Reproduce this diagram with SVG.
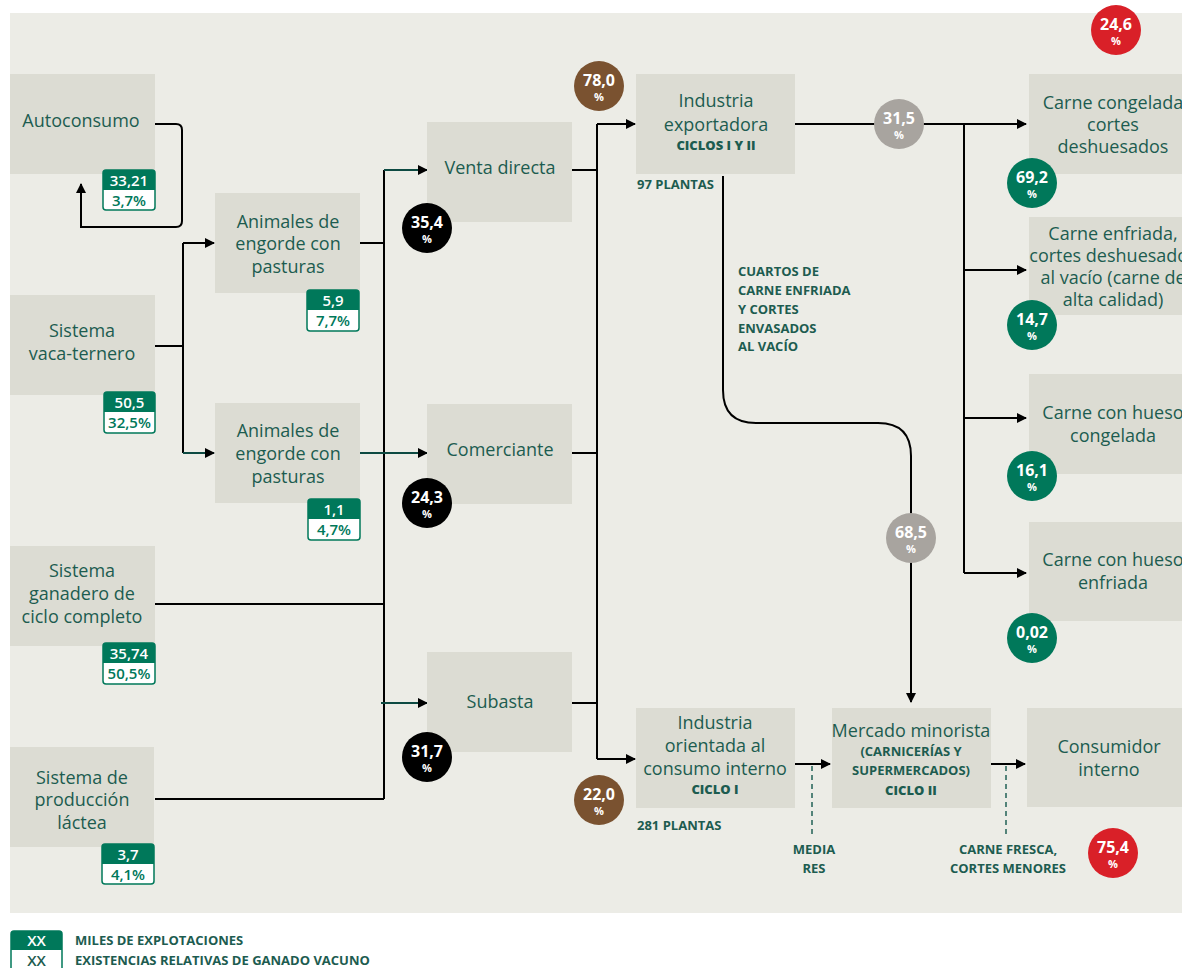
<svg xmlns="http://www.w3.org/2000/svg" width="1182" height="968" viewBox="0 0 1182 968">
<defs>
<style>
.bg{fill:#ecece6}
.box{fill:#dcdcd3}
.t{font-family:"Open Sans","Noto Sans",sans-serif;font-size:18px;fill:#1d5c50;text-anchor:middle}
.b{font-family:"Open Sans","Noto Sans",sans-serif;font-size:13px;font-weight:bold;fill:#1d5c50}
.bc{text-anchor:middle}
.xb{font-weight:800}
.ln{fill:none;stroke:#000;stroke-width:2}
.lt{fill:none;stroke:#0d4a42;stroke-width:2}
.dash{fill:none;stroke:#2e6a5f;stroke-width:1.6;stroke-dasharray:5 4}
.bt{fill:#00785a}
.bw{fill:#fff;stroke:#00785a;stroke-width:1.5}
.n1{font-family:"Open Sans","Noto Sans",sans-serif;font-size:15px;font-weight:600;fill:#fff;text-anchor:middle}
.n2{font-family:"Open Sans","Noto Sans",sans-serif;font-size:15px;font-weight:600;fill:#00785a;text-anchor:middle}
.cn{font-family:"Open Sans","Noto Sans",sans-serif;font-size:16px;font-weight:bold;fill:#fff;text-anchor:middle}
.cp{font-family:"Open Sans","Noto Sans",sans-serif;font-size:11px;font-weight:bold;fill:#fff;text-anchor:middle}
.cg{fill:#00785a}.cr{fill:#d92028}.cb{fill:#7a5230}.cy{fill:#a8a49f}.ck{fill:#000}
</style>
<marker id="ar" viewBox="0 0 10 10" refX="9" refY="5" markerWidth="5" markerHeight="5" orient="auto" markerUnits="strokeWidth">
<path d="M0,0 L10,5 L0,10 z" fill="#000"/>
</marker>
</defs>
<rect x="0" y="0" width="1182" height="968" fill="#fff"/>
<rect class="bg" x="10" y="13" width="1172" height="900"/>

<g id="connectors">
<path class="ln" d="M155,124 H176 Q182,124 182,130 V221 Q182,227 176,227 H81 V184" marker-end="url(#ar)"/>
<path class="ln" d="M155,346 H183"/>
<path class="ln" d="M183,243 V453"/>
<path class="ln" d="M183,243 H214" marker-end="url(#ar)"/>
<path class="lt" d="M183,453 H214" marker-end="url(#ar)"/>
<path class="ln" d="M360,243 H384"/>
<path class="ln" d="M384,170 V799"/>
<path class="lt" d="M384,170 H427" marker-end="url(#ar)"/>
<path class="lt" d="M360,453 H427" marker-end="url(#ar)"/>
<path class="ln" d="M155,604 H384"/>
<path class="ln" d="M155,799 H384"/>
<path class="lt" d="M381,703 H427" marker-end="url(#ar)"/>
<path class="ln" d="M572,170 H597"/>
<path class="ln" d="M572,453 H597"/>
<path class="ln" d="M572,703 H597"/>
<path class="ln" d="M597,124 V759"/>
<path class="ln" d="M597,124 H635" marker-end="url(#ar)"/>
<path class="ln" d="M597,759 H635" marker-end="url(#ar)"/>
<path class="ln" d="M723,176 V390 Q723,423 756,423 H878 Q911,423 911,456 V702" marker-end="url(#ar)"/>
<path class="ln" d="M795,124 H1026" marker-end="url(#ar)"/>
<path class="ln" d="M964,124 V573"/>
<path class="ln" d="M964,270 H1026" marker-end="url(#ar)"/>
<path class="ln" d="M964,418 H1026" marker-end="url(#ar)"/>
<path class="ln" d="M964,573 H1026" marker-end="url(#ar)"/>
<path class="ln" d="M795,764 H830" marker-end="url(#ar)"/>
<path class="ln" d="M991,764 H1025" marker-end="url(#ar)"/>
<path class="dash" d="M812,766 V836"/>
<path class="dash" d="M1006,766 V836"/>
</g>

<g id="autoconsumo">
<rect class="box" x="10" y="74" width="145" height="100"/>
<text class="t" x="81" y="127">Autoconsumo</text>
<rect class="bw" x="103" y="170" width="52" height="40" rx="3"/>
<path class="bt" d="M103,173 Q103,170 106,170 H152 Q155,170 155,173 V190 H103 z"/>
<text class="n1" x="129" y="186">33,21</text>
<text class="n2" x="129" y="206">3,7%</text>
</g>

<g id="vaca-ternero">
<rect class="box" x="10" y="295" width="145" height="100"/>
<text class="t" x="82" y="337">Sistema</text>
<text class="t" x="82" y="360">vaca-ternero</text>
<rect class="bw" x="104" y="392" width="51" height="41" rx="3"/>
<path class="bt" d="M104,395 Q104,392 107,392 H152 Q155,392 155,395 V412 H104 z"/>
<text class="n1" x="129.5" y="408">50,5</text>
<text class="n2" x="129.5" y="428">32,5%</text>
</g>

<g id="animales1">
<rect class="box" x="215" y="193" width="145" height="100"/>
<text class="t" x="288" y="228">Animales de</text>
<text class="t" x="288" y="250">engorde con</text>
<text class="t" x="288" y="273">pasturas</text>
<rect class="bw" x="307" y="290" width="52" height="41" rx="3"/>
<path class="bt" d="M307,293 Q307,290 310,290 H356 Q359,290 359,293 V310 H307 z"/>
<text class="n1" x="333" y="306">5,9</text>
<text class="n2" x="333" y="326">7,7%</text>
</g>

<g id="animales2">
<rect class="box" x="215" y="403" width="145" height="100"/>
<text class="t" x="288" y="437">Animales de</text>
<text class="t" x="288" y="460">engorde con</text>
<text class="t" x="288" y="483">pasturas</text>
<rect class="bw" x="308" y="499" width="52" height="41" rx="3"/>
<path class="bt" d="M308,502 Q308,499 311,499 H357 Q360,499 360,502 V519 H308 z"/>
<text class="n1" x="334" y="515">1,1</text>
<text class="n2" x="334" y="535">4,7%</text>
</g>

<g id="ciclo-completo">
<rect class="box" x="10" y="546" width="145" height="100"/>
<text class="t" x="82" y="577">Sistema</text>
<text class="t" x="82" y="600">ganadero de</text>
<text class="t" x="82" y="623">ciclo completo</text>
<rect class="bw" x="103" y="643" width="52" height="41" rx="3"/>
<path class="bt" d="M103,646 Q103,643 106,643 H152 Q155,643 155,646 V663 H103 z"/>
<text class="n1" x="129" y="659">35,74</text>
<text class="n2" x="129" y="679">50,5%</text>
</g>

<g id="lactea">
<rect class="box" x="10" y="747" width="144" height="100"/>
<text class="t" x="82" y="784">Sistema de</text>
<text class="t" x="82" y="806">producción</text>
<text class="t" x="82" y="829">láctea</text>
<rect class="bw" x="102" y="844" width="52" height="40" rx="3"/>
<path class="bt" d="M102,847 Q102,844 105,844 H151 Q154,844 154,847 V864 H102 z"/>
<text class="n1" x="128" y="860">3,7</text>
<text class="n2" x="128" y="880">4,1%</text>
</g>

<g id="venta-directa">
<rect class="box" x="427" y="122" width="145" height="100"/>
<text class="t" x="500" y="174">Venta directa</text>
<circle class="ck" cx="427" cy="228" r="25"/>
<text class="cn" x="427" y="228">35,4</text>
<text class="cp" x="427" y="243">%</text>
</g>

<g id="comerciante">
<rect class="box" x="427" y="404" width="145" height="100"/>
<text class="t" x="500" y="456">Comerciante</text>
<circle class="ck" cx="427" cy="503" r="25"/>
<text class="cn" x="427" y="503">24,3</text>
<text class="cp" x="427" y="518">%</text>
</g>

<g id="subasta">
<rect class="box" x="427" y="652" width="145" height="100"/>
<text class="t" x="500" y="708">Subasta</text>
<circle class="ck" cx="427" cy="757" r="25"/>
<text class="cn" x="427" y="757">31,7</text>
<text class="cp" x="427" y="772">%</text>
</g>

<g id="industria-exportadora">
<rect class="box" x="636" y="74" width="159" height="100"/>
<text class="t" x="716" y="107">Industria</text>
<text class="t" x="716" y="131">exportadora</text>
<text class="b bc xb" x="716" y="150">CICLOS I Y II</text>
<text class="b" x="637" y="189">97 PLANTAS</text>
<circle class="cb" cx="599" cy="86" r="25"/>
<text class="cn" x="599" y="86">78,0</text>
<text class="cp" x="599" y="101">%</text>
</g>

<g id="label-cuartos">
<text class="b" x="738" y="276">CUARTOS DE</text>
<text class="b" x="738" y="295">CARNE ENFRIADA</text>
<text class="b" x="738" y="314">Y CORTES</text>
<text class="b" x="738" y="333">ENVASADOS</text>
<text class="b" x="738" y="351">AL VACÍO</text>
</g>

<g id="pct-315">
<circle class="cy" cx="899" cy="124" r="25"/>
<text class="cn" x="899" y="124">31,5</text>
<text class="cp" x="899" y="139">%</text>
</g>

<g id="pct-685">
<circle class="cy" cx="911" cy="538" r="25"/>
<text class="cn" x="911" y="538">68,5</text>
<text class="cp" x="911" y="553">%</text>
</g>

<g id="pct-246">
<circle class="cr" cx="1116" cy="30" r="25"/>
<text class="cn" x="1116" y="30">24,6</text>
<text class="cp" x="1116" y="45">%</text>
</g>

<g id="carne-congelada">
<rect class="box" x="1029" y="74" width="153" height="100"/>
<text class="t" x="1113" y="109">Carne congelada</text>
<text class="t" x="1113" y="131">cortes</text>
<text class="t" x="1113" y="153">deshuesados</text>
<circle class="cg" cx="1032" cy="183" r="25"/>
<text class="cn" x="1032" y="183">69,2</text>
<text class="cp" x="1032" y="198">%</text>
</g>

<g id="carne-enfriada">
<rect class="box" x="1029" y="217" width="153" height="98"/>
<text class="t" x="1113" y="240">Carne enfriada,</text>
<text class="t" x="1113" y="262">cortes deshuesados</text>
<text class="t" x="1113" y="284">al vacío (carne de</text>
<text class="t" x="1113" y="306">alta calidad)</text>
<circle class="cg" cx="1032" cy="325" r="25"/>
<text class="cn" x="1032" y="325">14,7</text>
<text class="cp" x="1032" y="340">%</text>
</g>

<g id="hueso-congelada">
<rect class="box" x="1029" y="374" width="153" height="100"/>
<text class="t" x="1113" y="419">Carne con hueso</text>
<text class="t" x="1113" y="442">congelada</text>
<circle class="cg" cx="1032" cy="476" r="25"/>
<text class="cn" x="1032" y="476">16,1</text>
<text class="cp" x="1032" y="491">%</text>
</g>

<g id="hueso-enfriada">
<rect class="box" x="1029" y="522" width="153" height="99"/>
<text class="t" x="1113" y="566">Carne con hueso</text>
<text class="t" x="1113" y="589">enfriada</text>
<circle class="cg" cx="1032" cy="638" r="25"/>
<text class="cn" x="1032" y="638">0,02</text>
<text class="cp" x="1032" y="653">%</text>
</g>

<g id="industria-interna">
<rect class="box" x="636" y="708" width="159" height="100"/>
<text class="t" x="715" y="729">Industria</text>
<text class="t" x="715" y="752">orientada al</text>
<text class="t" x="715" y="775">consumo interno</text>
<text class="b bc xb" x="715" y="794">CICLO I</text>
<text class="b" x="637" y="830">281 PLANTAS</text>
<circle class="cb" cx="599" cy="800" r="25"/>
<text class="cn" x="599" y="800">22,0</text>
<text class="cp" x="599" y="815">%</text>
</g>

<g id="mercado-minorista">
<rect class="box" x="832" y="708" width="159" height="100"/>
<text class="t" x="911" y="737">Mercado minorista</text>
<text class="b bc" x="911" y="756">(CARNICERÍAS Y</text>
<text class="b bc" x="911" y="775">SUPERMERCADOS)</text>
<text class="b bc xb" x="911" y="795">CICLO II</text>
</g>

<g id="label-media-res">
<text class="b bc" x="814" y="854">MEDIA</text>
<text class="b bc" x="814" y="873">RES</text>
</g>

<g id="label-carne-fresca">
<text class="b bc" x="1008" y="854">CARNE FRESCA,</text>
<text class="b bc" x="1008" y="873">CORTES MENORES</text>
</g>

<g id="consumidor-interno">
<rect class="box" x="1027" y="708" width="155" height="99"/>
<text class="t" x="1109" y="753">Consumidor</text>
<text class="t" x="1109" y="776">interno</text>
<circle class="cr" cx="1113" cy="853" r="25"/>
<text class="cn" x="1113" y="853">75,4</text>
<text class="cp" x="1113" y="868">%</text>
</g>

<g id="legend">
<rect class="bw" x="11" y="931" width="51" height="42" rx="3"/>
<path class="bt" d="M11,934 Q11,931 14,931 H59 Q62,931 62,934 V950 H11 z"/>
<text class="n1" x="36.5" y="946">XX</text>
<text class="n2" x="36.5" y="966" style="fill:#1d5c50">XX</text>
<text class="b" x="75" y="945">MILES DE EXPLOTACIONES</text>
<text class="b" x="75" y="965">EXISTENCIAS RELATIVAS DE GANADO VACUNO</text>
</g>
</svg>
